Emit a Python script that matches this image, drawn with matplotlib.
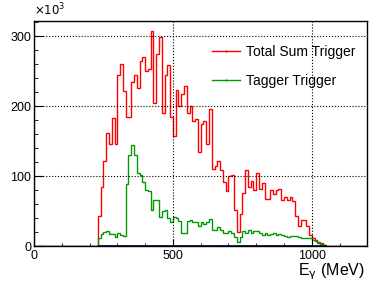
import numpy as np
import matplotlib
matplotlib.use("Agg")
from matplotlib import pyplot as plt
from matplotlib.lines import Line2D

plt.rcParams['font.family'] = ['Liberation Sans', 'DejaVu Sans']

# binning: 10 MeV bins over 0-1200 MeV, filled bins start at 230 MeV
bin_edges = np.arange(0, 1201, 10)
first_filled = 230

# counts in units of 10^3, one value per 10 MeV bin starting at 230 MeV
total_sum = [43, 84, 121, 162, 146, 183, 146, 245, 260, 222,
             185, 185, 235, 245, 226, 264, 270, 250, 253, 307,
             204, 274, 299, 190, 244, 259, 184, 157, 223, 200,
             217, 228, 190, 200, 179, 181, 135, 175, 179, 146,
             196, 110, 115, 122, 109, 92, 78, 100, 101, 52,
             20, 46, 76, 108, 84, 93, 80, 105, 82, 90,
             67, 67, 80, 75, 80, 82, 66, 70, 66, 70,
             64, 43, 29, 37, 37, 29, 16, 12, 9, 6,
             4, 1]
tagger = [11, 17, 20, 22, 17, 17, 13, 18, 16, 14,
          88, 130, 144, 130, 104, 101, 92, 80, 78, 52,
          66, 66, 42, 50, 51, 40, 34, 42, 40, 36,
          19, 19, 36, 37, 35, 34, 28, 34, 31, 34,
          38, 23, 23, 27, 23, 19, 19, 21, 19, 13,
          6, 13, 22, 19, 23, 19, 21, 22, 18, 16,
          18, 16, 17, 18, 16, 17, 16, 15, 13, 15,
          14, 15, 13, 11, 12, 12, 11, 9, 7, 5,
          3, 1]
labels = ["Total Sum Trigger", "Tagger Trigger"]


def full_hist(vals):
    h = np.zeros(len(bin_edges) - 1)
    i0 = first_filled // 10
    h[i0:i0 + len(vals)] = vals
    return h


fig = plt.figure(figsize=(3.69, 2.83), dpi=100)
ax = fig.add_axes([0.0921, 0.1307, 0.9033, 0.7962])

ax.stairs(full_hist(total_sum), bin_edges, color='#ff0000', lw=1.0)
ax.stairs(full_hist(tagger), bin_edges, color='#009900', lw=1.0)
# empty third histogram sitting on the baseline
edge_lo, edge_hi = first_filled, first_filled + 10 * len(total_sum)
ax.stairs(np.zeros(len(total_sum)), np.arange(edge_lo, edge_hi + 1, 10),
          color='#000050', lw=1.2)

ax.set_xlim(0, 1200)
ax.set_ylim(0, 322)
ax.set_xticks([0, 500, 1000])
ax.set_xticks(np.arange(0, 1201, 100), minor=True)
ax.set_yticks([0, 100, 200, 300])
ax.set_yticks(np.arange(0, 321, 20), minor=True)
ax.tick_params(which='both', direction='in', top=False, right=False,
               labelsize=9)
ax.tick_params(axis='x', which='major', length=5, pad=3)
ax.tick_params(axis='x', which='minor', length=2.2)
ax.tick_params(axis='y', which='major', length=6.5, pad=2)
ax.tick_params(axis='y', which='minor', length=3)
ax.grid(True, which='major', linestyle=':', color='black', lw=0.8)
for s in ax.spines.values():
    s.set_linewidth(1.0)

ax.text(0.0, 1.01, r'$\times10^{3}$', transform=ax.transAxes,
        fontsize=8.5, ha='left', va='bottom')
fig.text(0.99, 0.004, r'E$_{\mathrm{\gamma}}$ (MeV)', fontsize=11.5,
         ha='right', va='bottom')

handles = [Line2D([], [], color='#ff0000', lw=1.0, marker='|', ms=2),
           Line2D([], [], color='#009900', lw=1.0, marker='|', ms=2)]
ax.legend(handles, labels, loc='upper left', bbox_to_anchor=(0.534, 0.893),
          frameon=False, fontsize=10, handlelength=2.0, handletextpad=0.45,
          labelspacing=1.1, borderpad=0, borderaxespad=0)

fig.savefig('out.png', dpi=100)
